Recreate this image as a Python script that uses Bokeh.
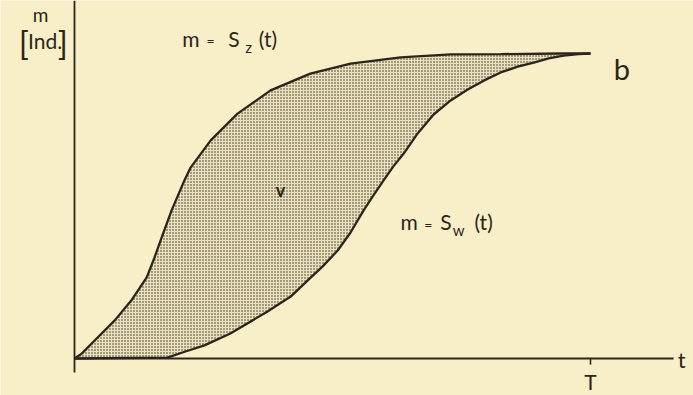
from bokeh.plotting import figure
from bokeh.models import Range1d
from bokeh.core.properties import value
from bokeh.embed import file_html
from bokeh.resources import INLINE

# ---- data (t as fraction of T, m as fraction of saturation level) ----
sz_t = [0.0, 0.014, 0.039, 0.078, 0.110, 0.140, 0.155, 0.169, 0.188, 0.213, 0.225,
        0.264, 0.316, 0.380, 0.457, 0.535, 0.632, 0.729, 0.826, 0.942, 1.0]
sz_m = [0.0, 0.016, 0.059, 0.125, 0.190, 0.266, 0.331, 0.397, 0.485, 0.584, 0.626,
        0.715, 0.803, 0.879, 0.934, 0.967, 0.987, 0.997, 0.998, 1.0, 1.0]

sw_t = [0.0, 0.180, 0.215, 0.252, 0.302, 0.374, 0.419, 0.452, 0.481, 0.510, 0.535,
        0.560, 0.579, 0.599, 0.618, 0.638, 0.665, 0.696, 0.729, 0.762, 0.793, 0.826,
        0.859, 0.890, 0.919, 0.948, 0.977, 1.0]
sw_m = [0.0, 0.003, 0.023, 0.043, 0.082, 0.154, 0.203, 0.256, 0.302, 0.354, 0.413,
        0.485, 0.534, 0.584, 0.630, 0.672, 0.738, 0.800, 0.846, 0.882, 0.911, 0.938,
        0.957, 0.970, 0.984, 0.993, 0.998, 1.0]

t_ticks = [1.0]
t_tick_labels = ["T"]
t_axis_end = 1.161

BG = "#f8efc8"
INK = "#2b251a"
FONT = value("Lato")

Y0, Y1 = -0.1213, 1.1738
H = 395
PX = (Y1 - Y0) / H  # data units per pixel (vertical)

p = figure(width=693, height=H, output_backend="svg", toolbar_location=None,
           x_range=Range1d(-0.1434, 1.1996), y_range=Range1d(Y0, Y1),
           x_axis_type=None, y_axis_type=None, min_border=0)
p.grid.visible = False
p.outline_line_color = None
p.background_fill_color = BG
p.border_fill_color = BG

# shaded region between the curves
p.patch(sz_t + sw_t[::-1], sz_m + sw_m[::-1], fill_color="#ebe2bd",
        hatch_pattern="dot", hatch_scale=3, hatch_weight=1.7, hatch_color="#2e2a20",
        line_color=None)

p.line(sz_t, sz_m, line_width=2.3, line_color=INK)
p.line(sw_t, sw_m, line_width=2.3, line_color=INK)

# axes
p.segment(x0=[0.0], y0=[0.0], x1=[t_axis_end], y1=[0.0], line_width=1.8, line_color=INK)
p.segment(x0=[0.0], y0=[-0.046], x1=[0.0], y1=[Y1], line_width=1.8, line_color=INK)
p.segment(x0=t_ticks, y0=[0.0] * len(t_ticks), x1=t_ticks, y1=[-0.02] * len(t_ticks),
          line_width=1.6, line_color=INK)


def put(txt, tx, my, size, align="left", k=0.4, style="normal"):
    # k compensates the renderer's baseline offset (fraction of font size)
    p.text(x=[tx], y=[my + k * size * PX], text=[txt], text_font=FONT,
           text_font_size=f"{size}px", text_align=align, text_baseline="alphabetic",
           text_color=INK, text_font_style=style)


for tv, lab in zip(t_ticks, t_tick_labels):
    put(lab, tv, -0.102, 21, "center")

labels = [
    # text, t, m (baseline), size, align
    ("t", 1.169, -0.033, 22, "left"),
    ("m", -0.066, 1.102, 19, "center"),
    ("Ind.", -0.057, 1.016, 21, "center"),
    ("[", -0.108, 0.995, 33, "left"),
    ("]", -0.013, 0.995, 33, "right"),
    ("m", 0.209, 1.023, 21, "left"),
    ("=", 0.256, 1.023, 14, "left"),
    ("S", 0.298, 1.023, 21, "left"),
    ("z", 0.331, 1.003, 15, "left"),
    ("(t)", 0.357, 1.023, 21, "left"),
    ("m", 0.632, 0.421, 21, "left"),
    ("=", 0.678, 0.421, 14, "left"),
    ("S", 0.709, 0.421, 21, "left"),
    ("w", 0.733, 0.403, 15, "left"),
    ("(t)", 0.775, 0.421, 21, "left"),
]
for txt, tx, my, size, align in labels:
    put(txt, tx, my, size, align)

put("b", 1.045, 0.902, 29, "left", k=0.5)
put("v", 0.399, 0.528, 18, "center", style="bold")

open("out.html", "w").write(file_html(p, INLINE))
